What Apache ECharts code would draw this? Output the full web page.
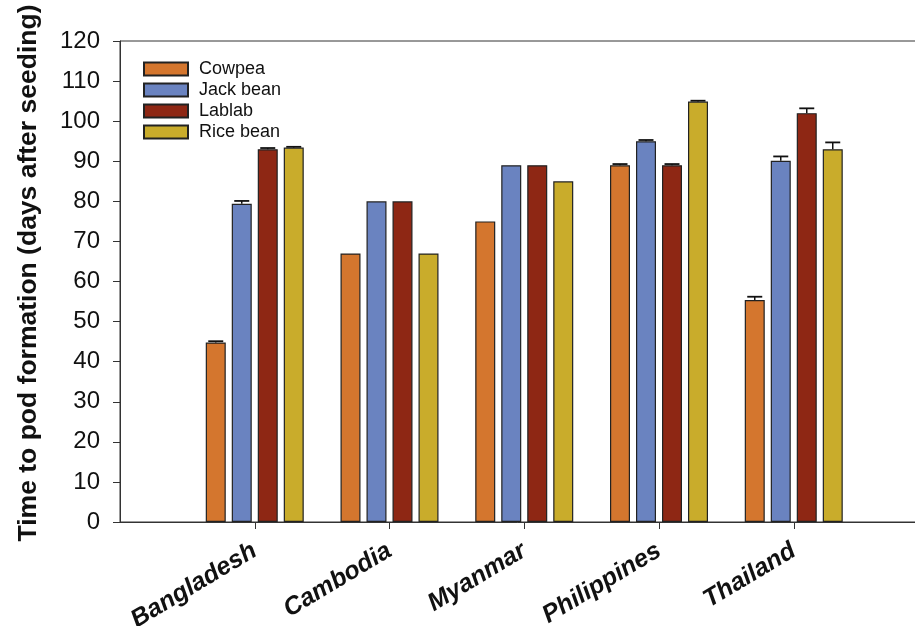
<!DOCTYPE html>
<html>
<head>
<meta charset="utf-8">
<script src="https://cdn.jsdelivr.net/npm/echarts@6/dist/echarts.min.js"></script>
<style>html,body{margin:0;padding:0;background:#fff}#c{width:915px;height:626px}</style>
</head>
<body>
<div id="c"></div>
<script>
var categories = ['', 'Bangladesh', 'Cambodia', 'Myanmar', 'Philippines', 'Thailand', ''];
var seriesNames = ['Cowpea', 'Jack bean', 'Lablab', 'Rice bean'];
var cowpea   = [null, 44.8, 67.0, 75.0, 89.0, 55.4, null];
var jackBean = [null, 79.4, 80.0, 89.0, 95.0, 90.1, null];
var lablab   = [null, 93.0, 80.0, 89.0, 89.0, 102.0, null];
var riceBean = [null, 93.4, 67.0, 85.0, 104.9, 93.0, null];
var cowpeaErr   = [0, 0.3, 0, 0, 0.3, 0.8, 0];
var jackBeanErr = [0, 0.7, 0, 0, 0.3, 1.1, 0];
var lablabErr   = [0, 0.3, 0, 0, 0.3, 1.2, 0];
var riceBeanErr = [0, 0.2, 0, 0, 0.2, 1.7, 0];
var yTicks = [0, 10, 20, 30, 40, 50, 60, 70, 80, 90, 100, 110, 120];

var values = [cowpea, jackBean, lablab, riceBean];
var errors = [cowpeaErr, jackBeanErr, lablabErr, riceBeanErr];
var colors = ['#D4762E', '#6A83C0', '#8E2714', '#C9AC2B'];
var offsets = [-39, -13, 13, 39];
var FONT = '"Liberation Sans", Arial, sans-serif';

var series = [];
values.forEach(function (vals, si) {
  series.push({
    name: seriesNames[si],
    type: 'bar',
    data: vals,
    barWidth: 20,
    barGap: '30%',
    itemStyle: { color: colors[si], borderColor: '#222', borderWidth: 1.2 }
  });
});
values.forEach(function (vals, si) {
  var d = [];
  vals.forEach(function (v, i) {
    if (v != null && errors[si][i] > 0) d.push([i, v, errors[si][i]]);
  });
  series.push({
    type: 'custom',
    silent: true,
    z: 5,
    data: d,
    renderItem: function (params, api) {
      var base = api.coord([api.value(0), api.value(1)]);
      var top = api.coord([api.value(0), api.value(1) + api.value(2)]);
      var x = base[0] + offsets[si];
      var hw = 7.5;
      return {
        type: 'group',
        children: [
          { type: 'line', shape: { x1: x, y1: base[1], x2: x, y2: top[1] }, style: { stroke: '#111', lineWidth: 1.5 } },
          { type: 'line', shape: { x1: x - hw, y1: top[1], x2: x + hw, y2: top[1] }, style: { stroke: '#111', lineWidth: 1.8 } }
        ]
      };
    }
  });
});

var chart = echarts.init(document.getElementById('c'), null, { renderer: 'canvas' });
chart.setOption({
  animation: false,
  backgroundColor: '#fff',
  grid: { left: 120, top: 41, height: 481, width: 808.5, containLabel: false, outerBoundsMode: 'none', show: true, borderColor: '#333', borderWidth: 1, backgroundColor: 'transparent' },
  legend: {
    orient: 'vertical',
    left: 138,
    top: 55,
    data: seriesNames,
    icon: 'rect',
    itemWidth: 44,
    itemHeight: 13,
    itemGap: 3,
    textStyle: { fontFamily: FONT, fontSize: 18, color: '#111', lineHeight: 18, padding: [0, 0, 0, 6] }
  },
  xAxis: {
    type: 'category',
    data: categories,
    boundaryGap: false,
    axisLine: { lineStyle: { color: '#333', width: 1 } },
    axisTick: { length: 7, lineStyle: { color: '#333' }, interval: function (i, v) { return v !== ''; } },
    axisLabel: {
      interval: 0,
      rotate: 31,
      margin: 27,
      fontFamily: FONT,
      fontSize: 25,
      fontWeight: 'bold',
      fontStyle: 'italic',
      color: '#111'
    }
  },
  yAxis: {
    type: 'value',
    min: yTicks[0],
    max: yTicks[yTicks.length - 1],
    interval: 10,
    name: 'Time to pod formation (days after seeding)',
    nameLocation: 'middle',
    nameGap: 78,
    nameTextStyle: { fontFamily: FONT, fontSize: 26.5, fontWeight: 'bold', color: '#111', padding: [0, 0, 0, 17] },
    splitLine: { show: false },
    axisLine: { show: true, lineStyle: { color: '#333', width: 1 } },
    axisTick: { show: true, length: 7, lineStyle: { color: '#333' } },
    axisLabel: { margin: 20, fontFamily: FONT, fontSize: 24, color: '#111' }
  },
  series: series
});
</script>
</body>
</html>
